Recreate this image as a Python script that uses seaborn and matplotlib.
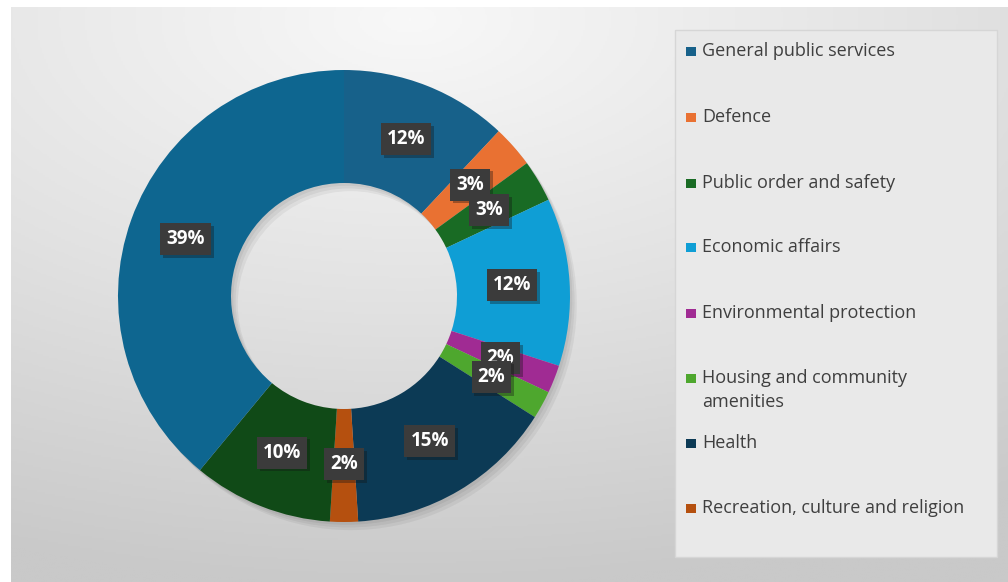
import numpy as np
import matplotlib
matplotlib.use("Agg")
import matplotlib.pyplot as plt
import seaborn as sns
from matplotlib.patches import Rectangle, Wedge
from matplotlib.colors import LinearSegmentedColormap
import matplotlib.patheffects as pe

# ---------------- data ----------------
categories = ["General public services", "Defence", "Public order and safety",
              "Economic affairs", "Environmental protection",
              "Housing and community\namenities", "Health",
              "Recreation, culture and religion", "Education", "Social protection"]
shares = [12, 3, 3, 12, 2, 2, 15, 2, 10, 39]
slice_colors = ["#17618A", "#E97132", "#196B24", "#0F9ED5", "#A02B93",
                "#4EA72E", "#0C3A55", "#B5500F", "#104A17", "#0E6690"]
legend_count = 8  # the legend in the reference only shows the first 8 entries
pct_labels = [f"{v}%" for v in shares]

# ---------------- style ----------------
sns.set_theme(style="white")
plt.rcParams['font.family'] = ['Open Sans', 'DejaVu Sans']

W, H = 1008, 582
fig = plt.figure(figsize=(W / 100, H / 100), dpi=100)
fig.patch.set_facecolor('white')

# gray gradient panel
bg = fig.add_axes([11 / W, 0, 1 - 11 / W, (H - 7) / H])
yy, xx = np.mgrid[0:1:300j, 0:1:500j]
d = np.sqrt(((xx - 0.40) / 1.0) ** 2 + ((yy - 0.02) / 0.9) ** 2)
cmap = LinearSegmentedColormap.from_list("bg", ["#f8f8f8", "#e2e2e2", "#c9c9c9"])
bg.imshow(d, cmap=cmap, aspect='auto', vmin=0, vmax=1.1)
bg.axis('off')

# ---------------- donut ----------------
ax = fig.add_axes([118 / W, (H - 522) / H, 452 / W, 452 / H])
for k, a in enumerate([0.05, 0.05, 0.05]):
    off = 0.01 * (k + 1)
    ax.add_patch(Wedge((off, -off * 1.2), 1.0, 0, 360, width=0.5, facecolor='black',
                       alpha=a, edgecolor='none', zorder=0))
wedges, _ = ax.pie(shares, colors=slice_colors, startangle=90, counterclock=False,
                   wedgeprops=dict(width=0.5, edgecolor='none'), radius=1.0)
for w in wedges:
    w.set_zorder(1)
ax.set_xlim(-1.0, 1.0)
ax.set_ylim(-1.0, 1.0)
ax.set_aspect('equal')
ax.axis('off')
for p in ax.patches:
    p.set_clip_on(False)

for w, lab in zip(wedges, pct_labels):
    ang = np.deg2rad((w.theta1 + w.theta2) / 2)
    r = 0.745
    t = ax.text(r * np.cos(ang), r * np.sin(ang), lab, ha='center', va='center',
                color='white', fontsize=13.5, fontweight='bold', zorder=5,
                bbox=dict(boxstyle='square,pad=0.32', fc='#3b3b3b', ec='none'))
    t.get_bbox_patch().set_path_effects(
        [pe.SimplePatchShadow(offset=(2, -2), alpha=0.35), pe.Normal()])

# ---------------- legend ----------------
lg = fig.add_axes([0, 0, 1, 1])
lg.set_xlim(0, W)
lg.set_ylim(H, 0)
lg.axis('off')
lg.add_patch(Rectangle((675, 30), 322, 527, facecolor='#e9e9e9',
                       edgecolor='#d6d6d6', lw=1.0))
legend_y = [51, 117, 183, 247, 313, 390, 443, 508]
for i in range(legend_count):
    y = legend_y[i]
    my = y if "\n" not in categories[i] else y - 12
    lg.add_patch(Rectangle((686, my - 4.5), 9.5, 9.5, facecolor=slice_colors[i],
                           edgecolor='none'))
    lg.text(702, y, categories[i], ha='left', va='center', fontsize=13,
            color='#3f3f3f', linespacing=1.45)

fig.savefig("out.png", dpi=100, facecolor=fig.get_facecolor())
